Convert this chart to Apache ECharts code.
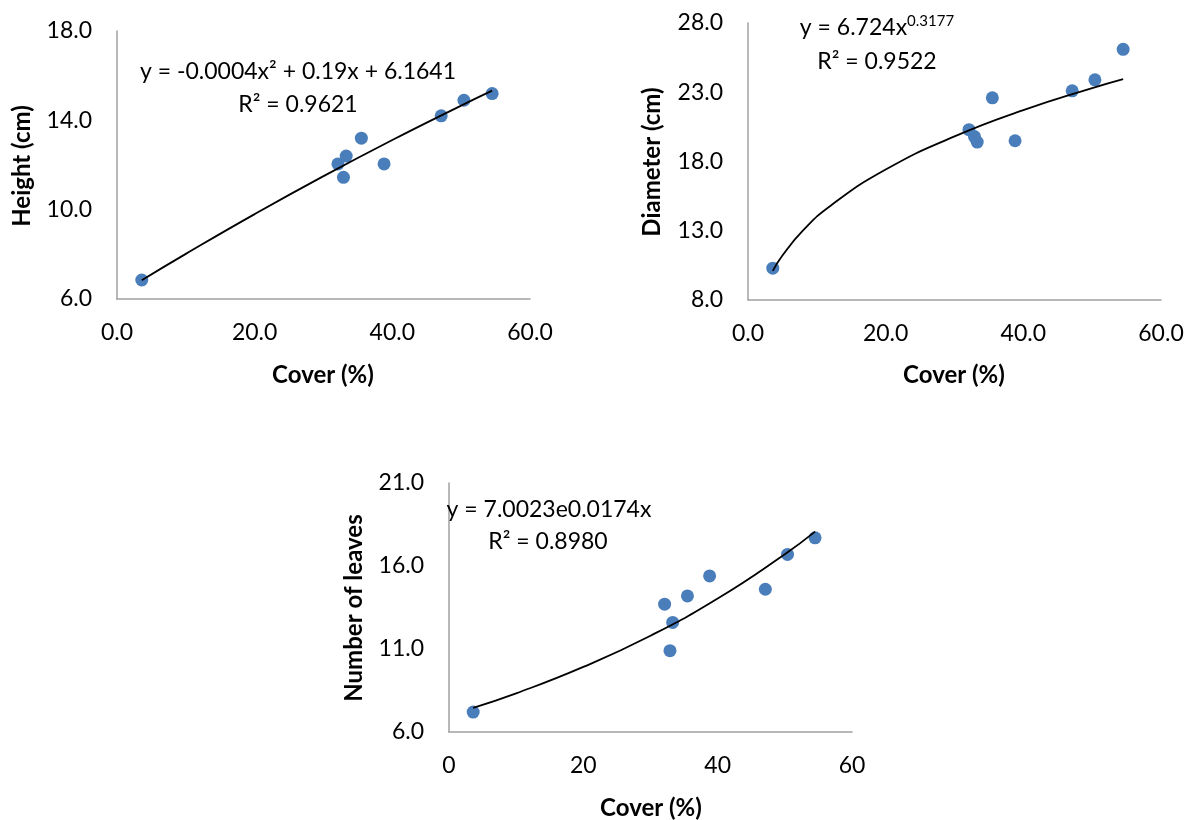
<!DOCTYPE html>
<html>
<head>
<meta charset="utf-8">
<script src="https://cdn.jsdelivr.net/npm/echarts@6/dist/echarts.min.js"></script>
<style>
html,body{margin:0;padding:0;background:#fff;}
#c{width:1187px;height:820px;}
</style>
</head>
<body>
<div id="c"></div>
<script>
// ---- data ----
const cover    = [3.6, 32.1, 32.9, 33.3, 35.5, 38.8, 47.1, 50.4, 54.5];
const height   = [6.85, 12.05, 11.45, 12.4, 13.2, 12.05, 14.2, 14.9, 15.2];
const diameter = [10.3, 20.3, 19.8, 19.4, 22.6, 19.5, 23.1, 23.9, 26.1];
const leaves   = [7.2, 13.7, 10.9, 12.6, 14.2, 15.4, 14.6, 16.7, 17.7];

// trendlines (sampled along the drawn curves)
const heightTrendX = [3.6, 10, 20, 30, 40, 50, 54.5];
const heightTrendY = [6.84, 8.02, 9.80, 11.50, 13.12, 14.66, 15.33];
const diamTrendX   = [3.6, 5, 8, 12, 20, 30, 40, 50, 54.5];
const diamTrendY   = [10.10, 11.21, 13.02, 14.81, 17.42, 19.81, 21.71, 23.30, 23.95];
const leafTrendX   = [3.6, 10, 20, 30, 40, 50, 54.5];
const leafTrendY   = [7.46, 8.33, 9.92, 11.80, 14.04, 16.71, 18.07];

// tick labels
const xTicks1 = ['0.0', '20.0', '40.0', '60.0'];
const yTicks1 = ['6.0', '10.0', '14.0', '18.0'];
const xTicks2 = ['0.0', '20.0', '40.0', '60.0'];
const yTicks2 = ['8.0', '13.0', '18.0', '23.0', '28.0'];
const xTicks3 = ['0', '20', '40', '60'];
const yTicks3 = ['6.0', '11.0', '16.0', '21.0'];

// texts
const eq1 = 'y = -0.0004x\u00B2 + 0.19x + 6.1641';
const r1  = 'R\u00B2 = 0.9621';
const eq2Base = 'y = 6.724x', eq2Exp = '0.3177';
const r2  = 'R\u00B2 = 0.9522';
const eq3 = 'y = 7.0023e0.0174x';
const r3  = 'R\u00B2 = 0.8980';
const xTitle = 'Cover (%)';
const yTitle1 = 'Height (cm)', yTitle2 = 'Diameter (cm)', yTitle3 = 'Number of leaves';

const FONT = 'Lato';
const pair = (xs, ys) => xs.map((x, i) => [x, ys[i]]);

const axisLineStyle = {show: true, onZero: false, lineStyle: {color: '#a0a0a0', width: 1.5}};
function xAx(gi, ticks) {
  return {type: 'value', gridIndex: gi, min: 0, max: 60, interval: 20,
    axisLine: axisLineStyle, axisTick: {show: false}, splitLine: {show: false},
    axisLabel: {margin: 22, fontSize: 23, fontFamily: FONT, color: '#000',
      formatter: (v, i) => ticks[i]}};
}
function yAx(gi, mn, mx, step, ticks) {
  return {type: 'value', gridIndex: gi, min: mn, max: mx, interval: step,
    axisLine: axisLineStyle, axisTick: {show: false}, splitLine: {show: false},
    axisLabel: {margin: 25, fontSize: 23, fontFamily: FONT, color: '#000',
      formatter: (v, i) => ticks[i]}};
}
function scatter(gi, ys) {
  return {type: 'scatter', xAxisIndex: gi, yAxisIndex: gi, data: pair(cover, ys),
    symbolSize: 13, itemStyle: {color: '#4a7ebb', opacity: 1}, z: 2};
}
function trend(gi, xs, ys) {
  return {type: 'line', xAxisIndex: gi, yAxisIndex: gi, data: pair(xs, ys),
    smooth: 0.5, showSymbol: false, symbol: 'none',
    lineStyle: {color: '#000', width: 1.8}, z: 3};
}
function txt(x, y, s, opts) {
  return Object.assign({type: 'text', x: x, y: y, z: 10,
    style: {text: s, fill: '#000', font: '23px ' + FONT, align: 'center', verticalAlign: 'middle'}}, opts || {});
}
function title(x, y, s, rot) {
  return {type: 'text', x: x, y: y, rotation: rot ? Math.PI / 2 : 0, z: 10,
    style: {text: s, fill: '#000', font: 'bold 24px ' + FONT, align: 'center', verticalAlign: 'middle'}};
}

const option = {
  backgroundColor: '#fff',
  animation: false,
  grid: [
    {left: 117, top: 31, width: 413, height: 268},
    {left: 748, top: 23, width: 413, height: 277},
    {left: 449, top: 483, width: 403, height: 249}
  ],
  xAxis: [xAx(0, xTicks1), xAx(1, xTicks2), xAx(2, xTicks3)],
  yAxis: [yAx(0, 6, 18, 4, yTicks1), yAx(1, 8, 28, 5, yTicks2), yAx(2, 6, 21, 5, yTicks3)],
  series: [
    scatter(0, height), trend(0, heightTrendX, heightTrendY),
    scatter(1, diameter), trend(1, diamTrendX, diamTrendY),
    scatter(2, leaves), trend(2, leafTrendX, leafTrendY)
  ],
  graphic: [
    txt(298, 72, eq1), txt(298, 105, r1),
    {type: 'text', x: 877, y: 28, z: 10,
      style: {text: '{b|' + eq2Base + '}{s|' + eq2Exp + '}', align: 'center', verticalAlign: 'middle',
        rich: {b: {fontSize: 23, fontFamily: FONT, color: '#000', lineHeight: 28},
               s: {fontSize: 15, fontFamily: FONT, color: '#000', lineHeight: 15, verticalAlign: 'top'}}}},
    txt(877, 62, r2),
    txt(549, 510, eq3), txt(548, 542, r3),
    title(323, 375, xTitle), title(22, 166, yTitle1, true),
    title(954, 375, xTitle), title(652, 162, yTitle2, true),
    title(651, 808, xTitle), title(354, 608, yTitle3, true)
  ]
};
echarts.init(document.getElementById('c'), null, {renderer: 'canvas'}).setOption(option);
</script>
</body>
</html>
